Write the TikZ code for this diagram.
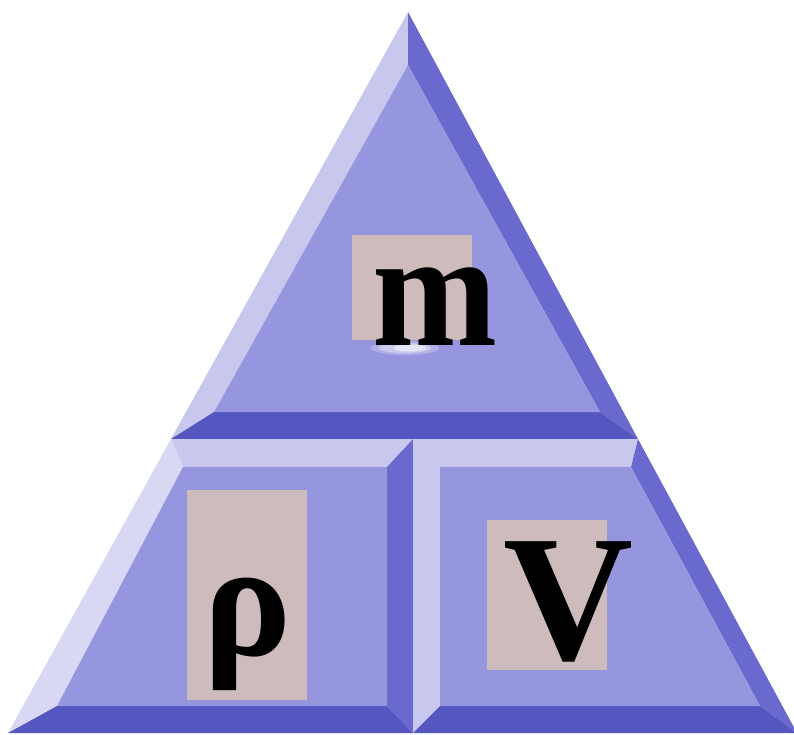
\documentclass[tikz,border=0pt]{standalone}
\usepackage{fontspec}
\setmainfont{Liberation Serif}
\definecolor{face}{HTML}{9696DE}
\definecolor{lite}{HTML}{C8C8EE}
\definecolor{vlite}{HTML}{D8D8F4}
\definecolor{mid}{HTML}{6A6ACE}
\definecolor{dark}{HTML}{5656C0}
\definecolor{tag}{HTML}{CDBCBB}
\tikzset{
  tagbox/.style={fill=tag, draw=none},
  letter/.style={inner sep=0pt, anchor=base, text=black, font=\bfseries}
}
\begin{document}
\begin{tikzpicture}[x=1pt,y=-1pt]
\path[use as bounding box, clip] (0,0) rectangle (794,734);
\fill[white] (0,0) rectangle (794,734);
% top triangle
\coordinate (A) at (408,12);
\coordinate (IA) at (408,65);
\coordinate (IBL) at (214,412);
\coordinate (IBR) at (600,412);
\coordinate (OL) at (171,439);
\coordinate (OR) at (638,439);
\fill[lite] (A) -- (IA) -- (IBL) -- (OL) -- cycle;
\fill[mid] (A) -- (OR) -- (IBR) -- (IA) -- cycle;
\fill[dark] (IBL) -- (IBR) -- (OR) -- (OL) -- cycle;
\fill[face] (IA) -- (IBR) -- (IBL) -- cycle;
% bottom-left trapezoid
\coordinate (M) at (413,439);
\coordinate (MB) at (413,733);
\coordinate (BL) at (8,733);
\coordinate (BR) at (797,733);
\coordinate (L1) at (183,467);
\coordinate (L2) at (387,467);
\coordinate (L3) at (387,706);
\coordinate (L4) at (57,706);
\fill[lite] (OL) -- (M) -- (L2) -- (L1) -- cycle;
\fill[vlite] (OL) -- (L1) -- (L4) -- (BL) -- cycle;
\fill[mid] (M) -- (MB) -- (L3) -- (L2) -- cycle;
\fill[dark] (L4) -- (L3) -- (MB) -- (BL) -- cycle;
\fill[face] (L1) -- (L2) -- (L3) -- (L4) -- cycle;
% bottom-right trapezoid
\coordinate (R1) at (440,467);
\coordinate (R2) at (631,467);
\coordinate (R3) at (760,706);
\coordinate (R4) at (440,706);
\fill[lite] (M) -- (OR) -- (R2) -- (R1) -- cycle;
\fill[lite] (M) -- (R1) -- (R4) -- (MB) -- cycle;
\fill[mid] (OR) -- (BR) -- (R3) -- (R2) -- cycle;
\fill[dark] (R4) -- (R3) -- (BR) -- (MB) -- cycle;
\fill[face] (R1) -- (R2) -- (R3) -- (R4) -- cycle;
% label boxes
\fill[tagbox] (352,235) rectangle (472,340);
\fill[tagbox] (187,490) rectangle (307,700);
\fill[tagbox] (487,520) rectangle (607,670);
\fill[white, opacity=0.25] (405,348) ellipse (34 and 7);
\fill[white, opacity=0.35] (405,348) ellipse (26 and 5);
\fill[white, opacity=0.5] (410,348) ellipse (16 and 3.5);
% letters
\node[letter] (m) at (435,345) {\scalebox{1}[1.1]{\fontsize{150}{150}\selectfont m}};
\node[letter] (rho) at (248,655) {\fontsize{165}{165}\selectfont ρ};
\node[letter] (V) at (568,659) {\fontsize{180}{180}\selectfont V};
\end{tikzpicture}
\end{document}
